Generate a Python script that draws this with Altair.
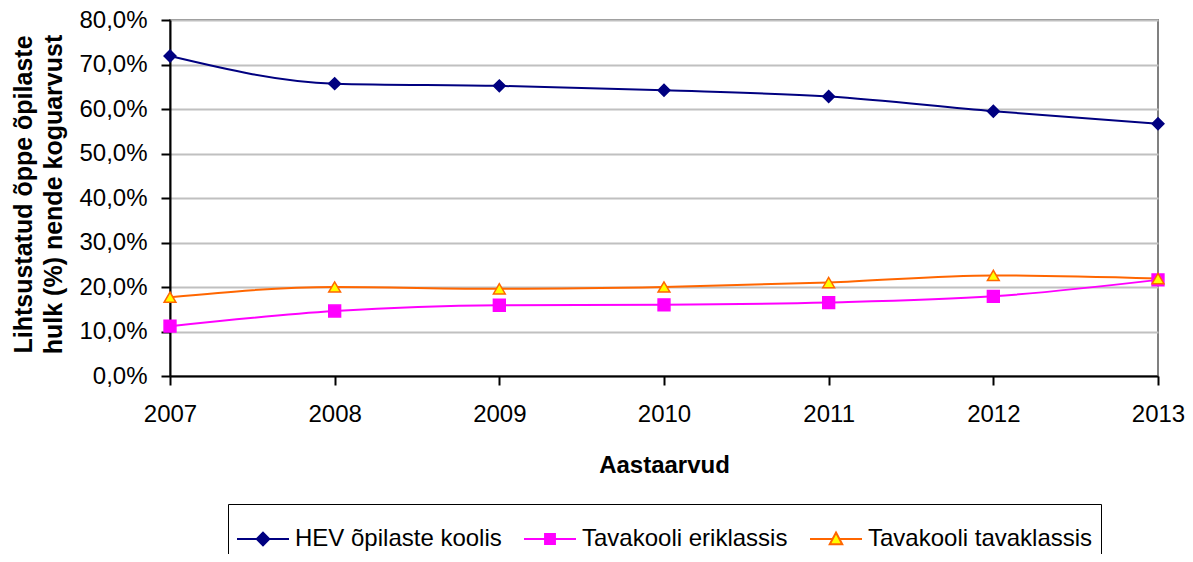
import altair as alt
import pandas as pd

years = [2007, 2008, 2009, 2010, 2011, 2012, 2013]
hev = [71.9, 65.7, 65.2, 64.2, 62.8, 59.5, 56.7]
eri = [11.2, 14.6, 15.9, 16.0, 16.5, 17.9, 21.6]
tava = [17.7, 20.0, 19.6, 20.0, 21.0, 22.6, 21.9]
series = ["HEV õpilaste koolis", "Tavakooli eriklassis", "Tavakooli tavaklassis"]
y_ticks = [0, 10, 20, 30, 40, 50, 60, 70, 80]

line_colors = ["#000080", "#FF00FF", "#FF6600"]
fill_colors = ["#000080", "#FF00FF", "#FFFF00"]
shapes = ["diamond", "square", "triangle-up"]
legend_paths = [
    "M-1,0L-0.2,0M0.2,0L1,0M0,-0.24L0.24,0L0,0.24L-0.24,0Z",
    "M-1,0L-0.18,0M0.18,0L1,0M-0.19,-0.19L0.19,-0.19L0.19,0.19L-0.19,0.19Z",
    "M-1,0L-0.13,0M0.13,0L1,0M0,-0.25L0.24,0.2L-0.24,0.2Z",
]

rows = []
for name, vals in zip(series, [hev, eri, tava]):
    for yr, v in zip(years, vals):
        rows.append({"Aasta": yr, "Osakaal": v, "Seeria": name})
df = pd.DataFrame(rows)

FONT = "Liberation Sans"

x_enc = alt.X(
    "Aasta:Q",
    scale=alt.Scale(domain=[2007, 2013], nice=False, zero=False),
    axis=alt.Axis(
        values=years, format="d", title="Aastaarvud", grid=False,
        labelFont=FONT, labelFontSize=24, labelColor="black", labelPadding=17,
        labelFlush=False,
        domainColor="black", domainWidth=2, tickColor="black", tickWidth=2, tickSize=9,
        titleFont=FONT, titleFontSize=24, titleFontWeight="bold", titleColor="black",
        titleBaseline="middle", titleY=89, titleX=494,
    ),
)
y_enc = alt.Y(
    "Osakaal:Q",
    scale=alt.Scale(domain=[0, 80], nice=False),
    axis=alt.Axis(
        values=y_ticks,
        labelExpr="replace(format(datum.value, '.1f'), '.', ',') + '%'",
        title=["Lihtsustatud õppe õpilaste", "hulk (%) nende koguarvust"],
        labelFont=FONT, labelFontSize=24, labelColor="black", labelPadding=14,
        domainColor="black", domainWidth=2, tickColor="black", tickWidth=2, tickSize=9,
        gridColor="#C0C0C0", gridWidth=2,
        titleFont=FONT, titleFontSize=25, titleFontWeight="bold", titleColor="black",
        titleLineHeight=30, titleAngle=-90, titleBaseline="middle", titleAlign="center",
        titleX=-147, titleY=174,
    ),
)

base = alt.Chart(df).encode(x=x_enc, y=y_enc)

lines = base.mark_line(interpolate="monotone", strokeWidth=2).encode(
    color=alt.Color("Seeria:N", scale=alt.Scale(domain=series, range=line_colors), legend=None)
)

points = base.mark_point(filled=True, opacity=1, size=140, strokeWidth=1.5).encode(
    shape=alt.Shape("Seeria:N", scale=alt.Scale(domain=series, range=shapes), legend=None),
    fill=alt.Fill("Seeria:N", scale=alt.Scale(domain=series, range=fill_colors), legend=None),
    stroke=alt.Stroke("Seeria:N", scale=alt.Scale(domain=series, range=line_colors), legend=None),
)

legend_layer = base.mark_point(filled=True, opacity=1).encode(
    shape=alt.Shape("Seeria:N", scale=alt.Scale(domain=series, range=legend_paths), title=None),
    fill=alt.Fill("Seeria:N", scale=alt.Scale(domain=series, range=fill_colors), title=None),
    stroke=alt.Stroke("Seeria:N", scale=alt.Scale(domain=series, range=line_colors), title=None),
).transform_filter("false")

chart = (
    alt.layer(lines, points, legend_layer)
    .resolve_scale(shape="independent", fill="independent", stroke="independent")
    .properties(
        width=988, height=356,
        autosize=alt.AutoSizeParams(type="none"),
        padding={"left": 162, "top": 12, "right": 27, "bottom": 178},
    )
    .configure_view(stroke="#808080", strokeWidth=2)
    .configure_legend(
        orient="none", legendX=58, legendY=484, direction="horizontal",
        strokeColor="black", padding=8, labelFont=FONT, labelFontSize=24,
        labelColor="black", symbolSize=2704, symbolStrokeWidth=2, symbolOpacity=1,
        labelOffset=5, columnPadding=18, labelLimit=400,
    )
)

chart.save("out.html", embed_options={"renderer": "svg", "actions": False})
